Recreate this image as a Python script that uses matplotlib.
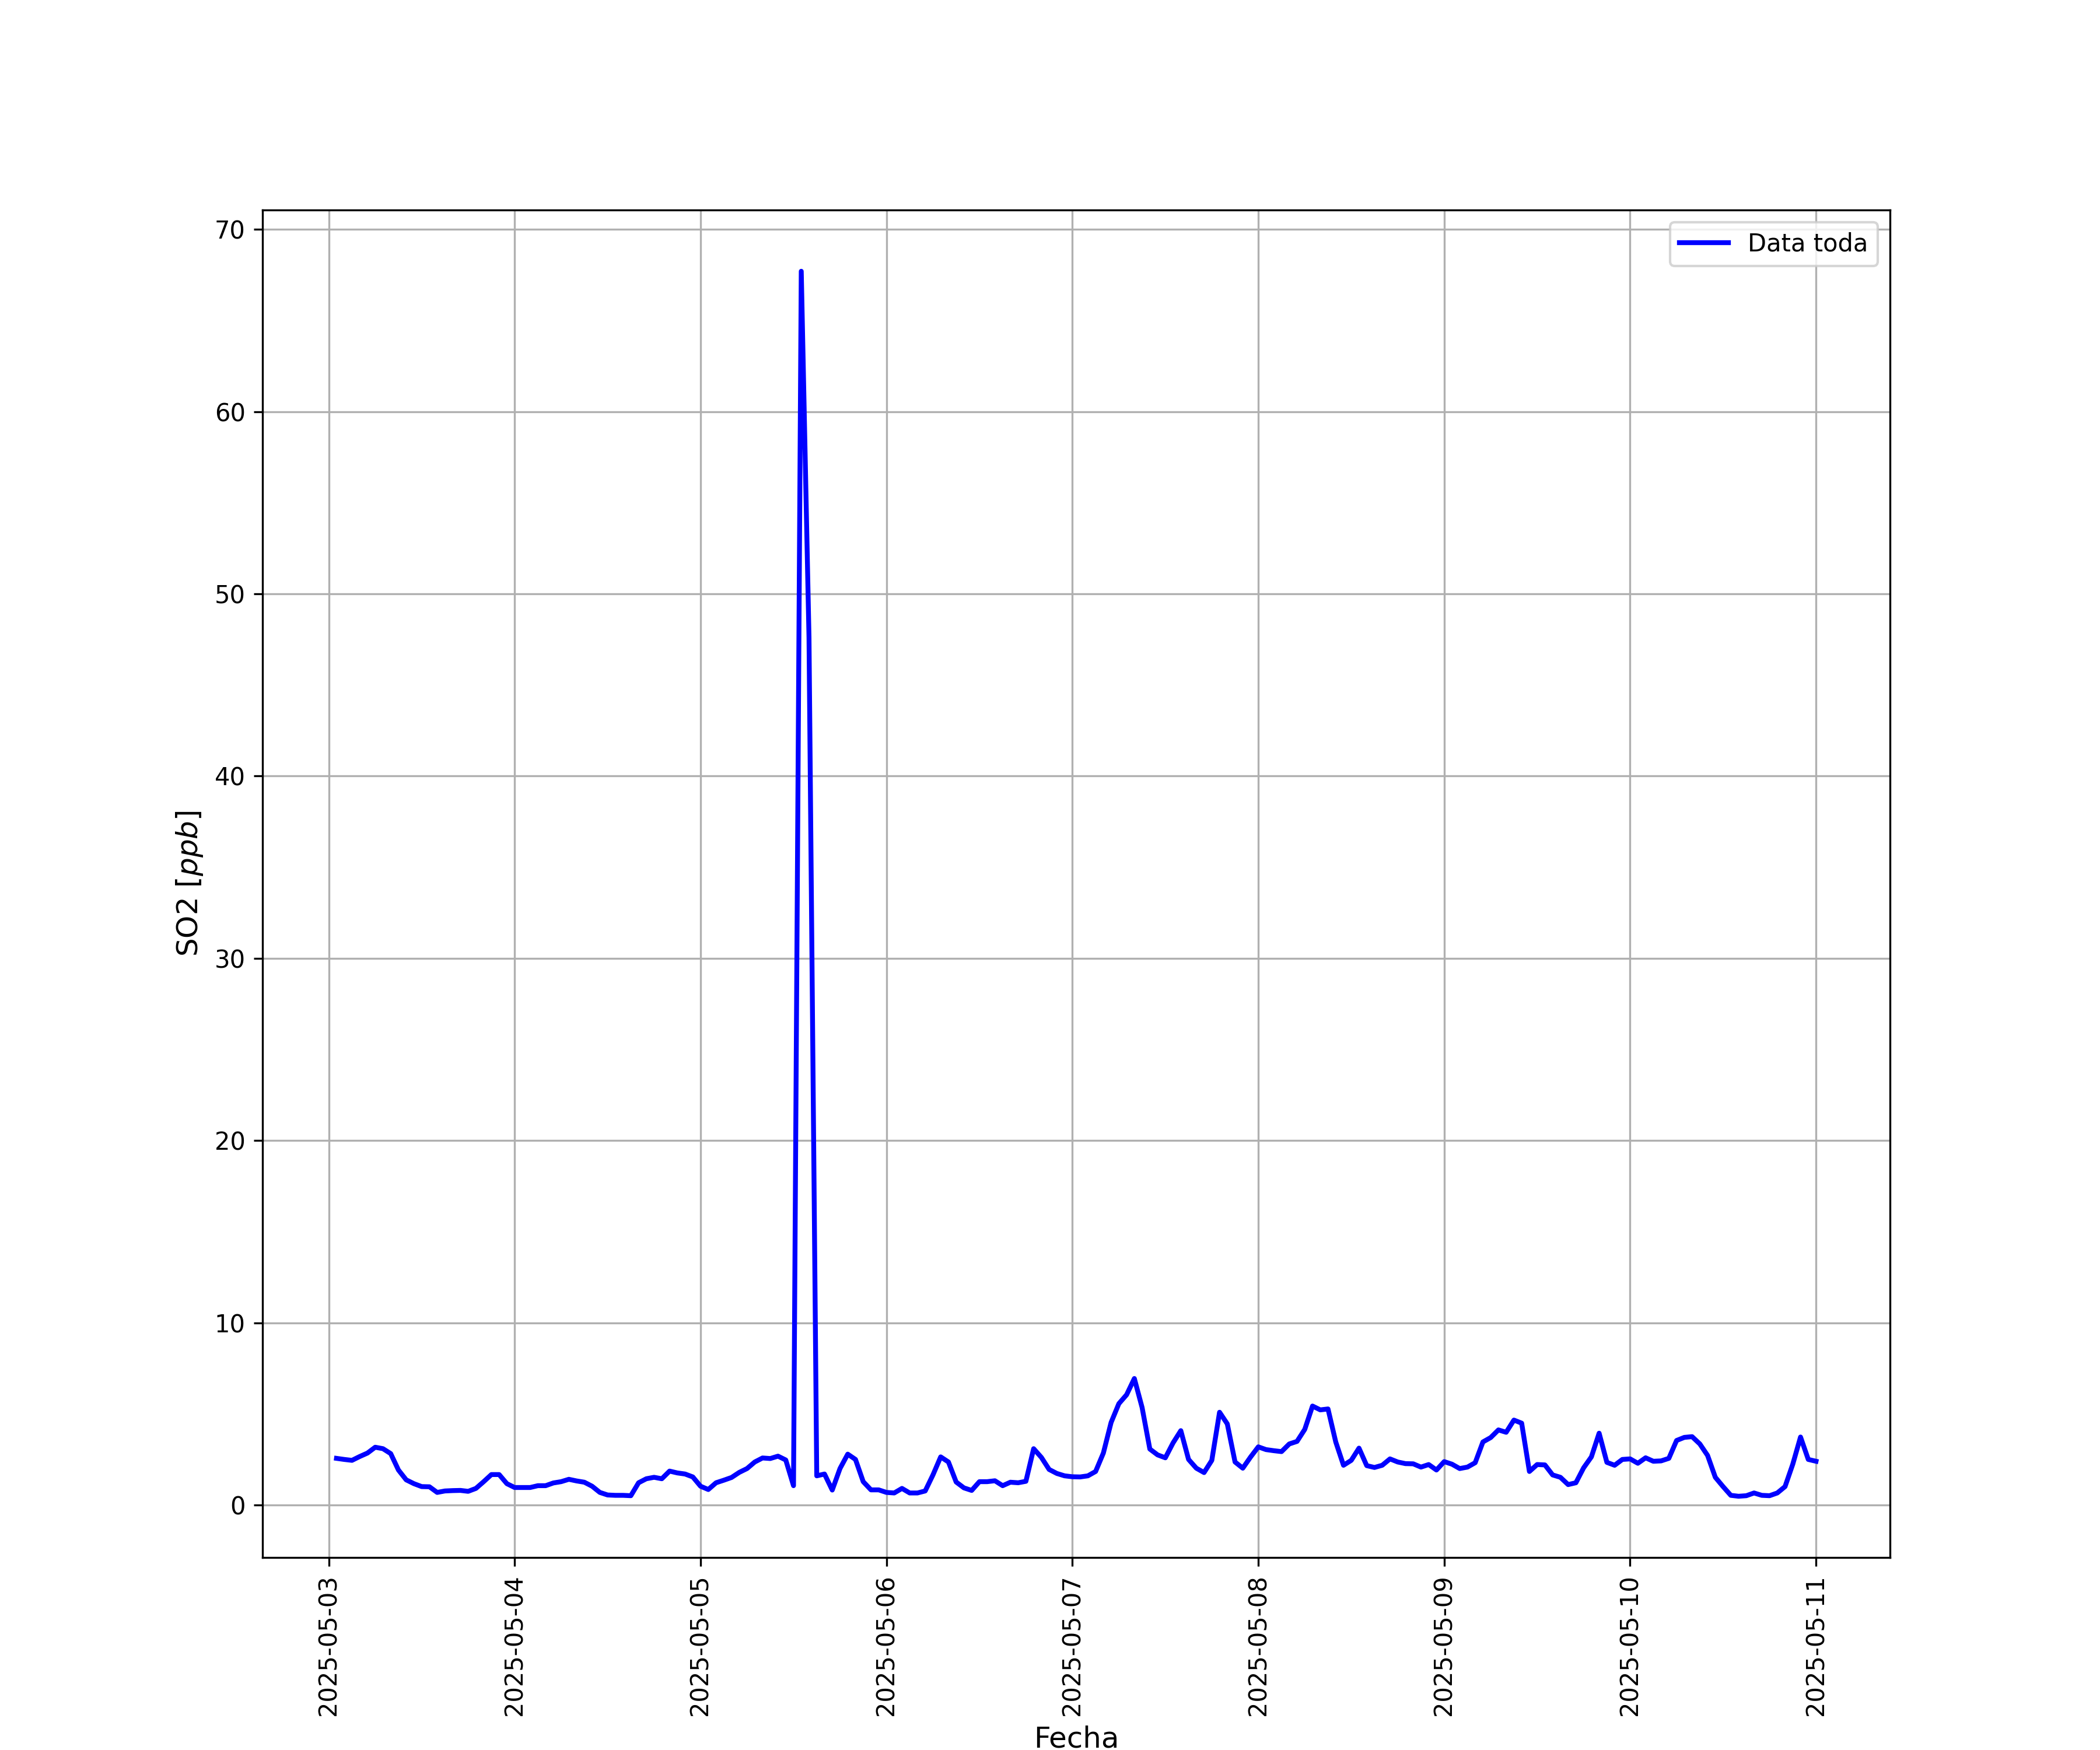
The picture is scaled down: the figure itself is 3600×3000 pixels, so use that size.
import matplotlib
matplotlib.use("Agg")
import matplotlib.pyplot as plt
import numpy as np
import pandas as pd

# hourly SO2, 2025-05-03 01:00 .. 2025-05-11 00:00
fechas = pd.date_range("2025-05-03 01:00", periods=192, freq="h")

dia_03 = [2.56, 2.50, 2.45, 2.66, 2.85, 3.17, 3.09, 2.82, 1.92, 1.38, 1.17, 1.01,
          1.00, 0.69, 0.77, 0.79, 0.80, 0.75, 0.91, 1.28, 1.67, 1.67, 1.17, 0.96]
dia_04 = [0.96, 0.96, 1.06, 1.06, 1.21, 1.28, 1.41, 1.32, 1.25, 1.03, 0.69, 0.55,
          0.53, 0.53, 0.51, 1.22, 1.44, 1.52, 1.44, 1.86, 1.76, 1.70, 1.54, 1.03]
dia_05 = [0.85, 1.22, 1.36, 1.51, 1.79, 2.00, 2.36, 2.58, 2.55, 2.68, 2.47, 1.06,
          67.7, 47.6, 1.60, 1.70, 0.82, 2.00, 2.79, 2.50, 1.28, 0.83, 0.83, 0.69]
dia_06 = [0.66, 0.91, 0.66, 0.66, 0.77, 1.65, 2.64, 2.36, 1.26, 0.94, 0.80, 1.28,
          1.28, 1.33, 1.06, 1.25, 1.22, 1.30, 3.09, 2.61, 1.95, 1.73, 1.60, 1.55]
dia_07 = [1.54, 1.60, 1.84, 2.85, 4.53, 5.56, 6.05, 6.94, 5.35, 3.07, 2.75, 2.59,
          3.41, 4.08, 2.50, 2.02, 1.78, 2.45, 5.09, 4.45, 2.36, 2.02, 2.63, 3.19]
dia_08 = [3.04, 2.98, 2.93, 3.35, 3.49, 4.15, 5.43, 5.22, 5.27, 3.46, 2.18, 2.45,
          3.12, 2.16, 2.06, 2.18, 2.53, 2.36, 2.27, 2.26, 2.08, 2.22, 1.92, 2.38]
dia_09 = [2.24, 2.00, 2.08, 2.32, 3.46, 3.70, 4.12, 3.99, 4.66, 4.49, 1.84, 2.22,
          2.20, 1.65, 1.52, 1.12, 1.22, 2.04, 2.64, 3.94, 2.34, 2.18, 2.50, 2.53]
dia_10 = [2.29, 2.59, 2.40, 2.42, 2.56, 3.54, 3.71, 3.75, 3.35, 2.72, 1.52, 1.01,
          0.53, 0.48, 0.51, 0.66, 0.53, 0.51, 0.66, 1.01, 2.24, 3.73, 2.50, 2.40]

so2 = np.array(dia_03 + dia_04 + dia_05 + dia_06 + dia_07 + dia_08 + dia_09 + dia_10)

fig, ax = plt.subplots(figsize=(12, 10))
ax.plot(fechas, so2, color="blue", linewidth=2, label="Data toda")
ax.set_xlabel("Fecha", fontsize=12)
ax.set_ylabel("SO2 [$ppb$]", fontsize=12)
ax.grid(True)
ax.legend(loc="upper right")
plt.xticks(rotation=90)
plt.savefig("out.png", dpi=300)
